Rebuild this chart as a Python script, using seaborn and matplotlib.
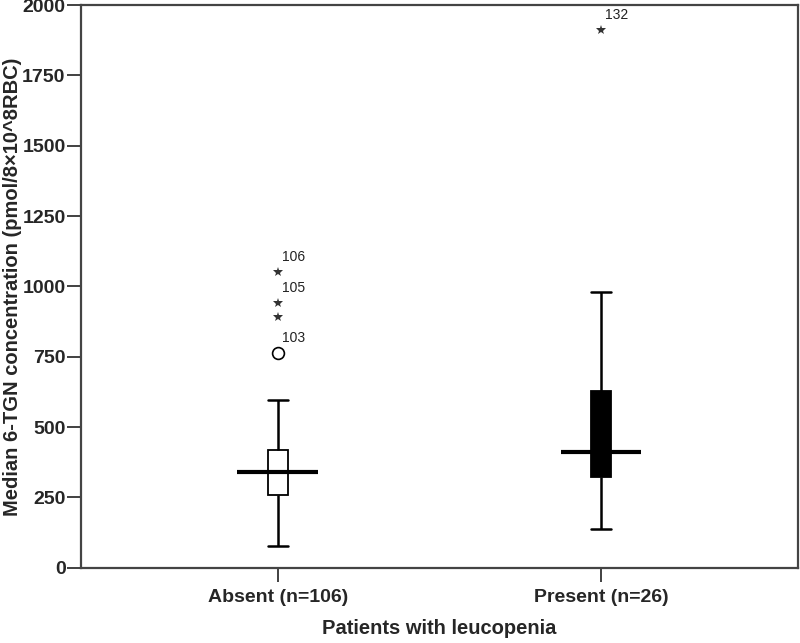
import numpy as np
import pandas as pd
import seaborn as sns
import matplotlib.pyplot as plt

# Box summary values
groups = ["Absent (n=106)", "Present (n=26)"]
whisker_low = [78, 138]
q1 = [259, 323]
median = [340, 411]
q3 = [418, 628]
whisker_high = [596, 979]

# Outliers (SPSS style: o = outlier, * = extreme)
out_group = ["Absent (n=106)", "Absent (n=106)", "Absent (n=106)", "Absent (n=106)", "Present (n=26)"]
out_value = [762, 890, 940, 1050, 1910]
out_kind = ["o", "*", "*", "*", "*"]
out_label = ["103", "", "105", "106", "132"]

yticks = [0, 250, 500, 750, 1000, 1250, 1500, 1750, 2000]

# five points per group give exactly these quartiles with whis=inf
rows = []
for i, g in enumerate(groups):
    for v in [whisker_low[i], q1[i], median[i], q3[i], whisker_high[i]]:
        rows.append({"group": g, "value": v})
df = pd.DataFrame(rows)

sns.set_style("white")
plt.rcParams["font.family"] = ["Liberation Sans", "DejaVu Sans"]

fig = plt.figure(figsize=(8, 6.43), dpi=100)
ax = fig.add_axes([0.101, 0.117, 0.8965, 0.875])

box_w = 0.062
sns.boxplot(data=df, x="group", y="value", hue="group", order=groups,
            palette=["white", "black"], width=box_w, whis=np.inf,
            showfliers=False, linecolor="black", linewidth=1.3,
            medianprops={"linewidth": 0}, legend=False, ax=ax)

# caps as wide as the box, like SPSS
for ln in ax.lines:
    xd, yd = np.asarray(ln.get_xdata(), float), np.asarray(ln.get_ydata(), float)
    if len(xd) == 2 and yd[0] == yd[1] and xd[0] != xd[1]:
        c = xd.mean()
        ln.set_xdata([c - box_w / 2, c + box_w / 2])
        ln.set_linewidth(1.8)
    elif len(xd) == 2 and xd[0] == xd[1]:
        ln.set_linewidth(1.8)

# SPSS draws the median wider than the box
pos = np.arange(len(groups))
ax.hlines(median, pos - 0.125, pos + 0.125, color="black", linewidth=3, zorder=5)

# outliers and their case numbers
for g, v, k, lab in zip(out_group, out_value, out_kind, out_label):
    x = groups.index(g)
    if k == "o":
        ax.plot(x, v, marker="o", ms=8.5, mfc="white", mec="black", mew=1.2, ls="none")
    else:
        ax.plot(x, v, marker="*", ms=7, color="#333333", mew=0, ls="none")
    if lab:
        ax.annotate(lab, (x, v), xytext=(3, 6), textcoords="offset points",
                    fontsize=10, color="#222222", ha="left", va="bottom")

ax.set_xlim(-0.61, 1.61)
ax.set_ylim(0, 2000)
ax.set_yticks(yticks)
ax.set_yticklabels([str(t) for t in yticks], fontweight="bold", fontsize=14)
ax.set_xticks(pos)
ax.set_xticklabels(groups, fontweight="bold", fontsize=14)
ax.tick_params(axis="both", direction="out", length=10, width=1.3, color="#333333",
               left=True, bottom=True)
ax.tick_params(axis="x", pad=5)
ax.tick_params(axis="y", pad=1)

for s in ax.spines.values():
    s.set_visible(True)
    s.set_color("#444444")
    s.set_linewidth(1.6)

ax.set_xlabel("Patients with leucopenia", fontweight="bold", fontsize=14.5, labelpad=10)
ax.set_ylabel("Median 6-TGN concentration (pmol/8\u00d710^8RBC)", fontweight="bold",
              fontsize=14.5)
ax.yaxis.set_label_coords(-0.082, 0.5)

plt.savefig("out.png", dpi=100)
plt.close()
